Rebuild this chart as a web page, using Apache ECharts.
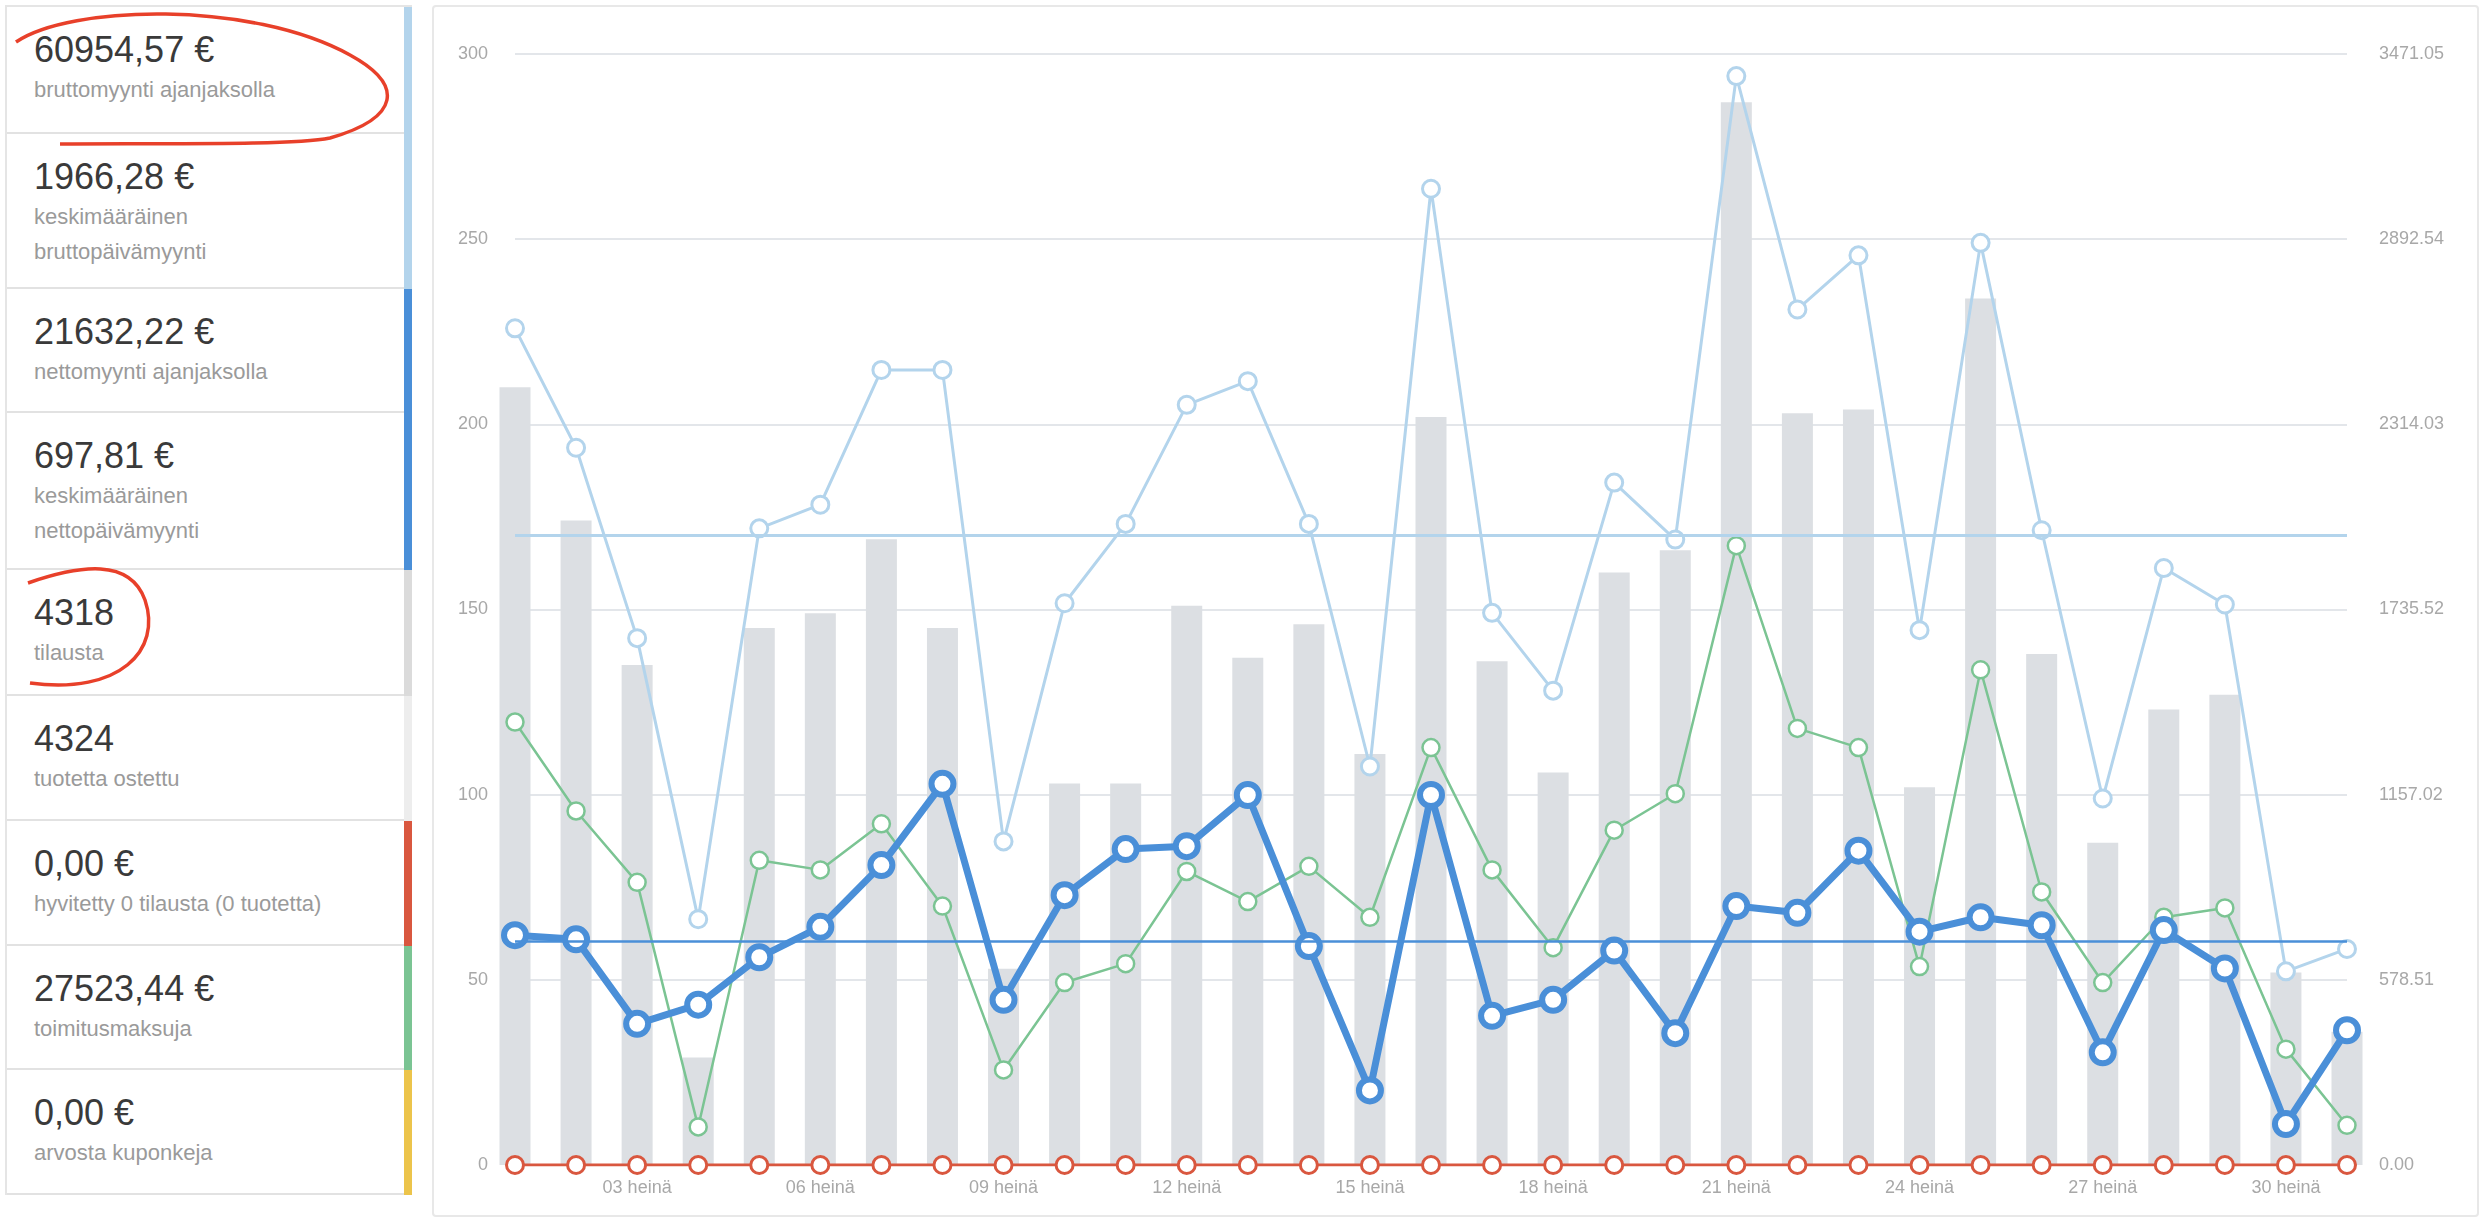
<!DOCTYPE html>
<html><head><meta charset="utf-8">
<script src="https://cdn.jsdelivr.net/npm/echarts@6/dist/echarts.min.js"></script>
<style>
body{margin:0;width:2488px;height:1228px;background:#fff;font-family:"Liberation Sans",Arial,sans-serif;position:relative;overflow:hidden}
#panel{position:absolute;left:5px;top:5px;width:405px;border-left:2px solid #e5e5e5;border-top:2px solid #e5e5e5}
.box{box-sizing:border-box;border-bottom:2px solid #e2e2e2;padding:21px 0 0 27px;position:relative}
.box .n{font-size:36px;line-height:44px;color:#3a3a3a}
.box .l{font-size:22px;line-height:35px;color:#9a9a9a}
.box .c{position:absolute;right:0;top:0;bottom:-2px;width:8px}
#chartbox{position:absolute;left:432px;top:5px;width:2047px;height:1212px;border:2px solid #e8e8e8;border-radius:4px;box-sizing:border-box}
#chart{width:100%;height:100%}
svg{position:absolute;left:0;top:0}
</style></head><body>
<div id="panel"></div>
<div id="chartbox"><div id="chart"></div></div>
<svg width="500" height="760"><path d="M 16 42 C 70 5, 250 0, 350 55 C 405 85, 400 118, 330 138 C 290 146, 150 143, 60 144" fill="none" stroke="#e8402a" stroke-width="3.5"/>
<path d="M 28 583 C 80 565, 130 558, 145 600 C 162 650, 120 695, 30 683" fill="none" stroke="#e8402a" stroke-width="3.5"/></svg>
<script>
const statValues=["60954,57 €","1966,28 €","21632,22 €","697,81 €","4318","4324","0,00 €","27523,44 €","0,00 €"];
const statLabels=["bruttomyynti ajanjaksolla","keskimääräinen<br>bruttopäivämyynti","nettomyynti ajanjaksolla","keskimääräinen<br>nettopäivämyynti","tilausta","tuotetta ostettu","hyvitetty 0 tilausta (0 tuotetta)","toimitusmaksuja","arvosta kuponkeja"];
const statColors=["#b3d4ec","#b3d4ec","#4a8fd8","#4a8fd8","#dbdbdb","#ededed","#d9573f","#7bc493","#ecc44b"];
const statHeights=[127,155,124,157,126,125,125,124,125];
const days=["01 heinä","02 heinä","03 heinä","04 heinä","05 heinä","06 heinä","07 heinä","08 heinä","09 heinä","10 heinä","11 heinä","12 heinä","13 heinä","14 heinä","15 heinä","16 heinä","17 heinä","18 heinä","19 heinä","20 heinä","21 heinä","22 heinä","23 heinä","24 heinä","25 heinä","26 heinä","27 heinä","28 heinä","29 heinä","30 heinä","31 heinä"];
const items=[210,174,135,29,145,149,169,145,53,103,103,151,137,146,111,202,136,106,160,166,287,203,204,102,234,138,87,123,127,52,36];
const gross=[2614,2241,1646,768,1989,2063,2484,2484,1011,1755,2003,2375,2449,2003,1245,3050,1725,1482,2132,1954,3402,2673,2842,1671,2881,1983,1145,1865,1751,605,675];
const net=[718,705,441,501,649,744,937,1191,516,843,987,996,1156,684,233,1156,466,516,670,412,809,788,982,729,774,749,352,734,614,128,421];
const shipping=[1384,1106,883,119,952,922,1066,809,297,570,629,917,823,933,774,1304,922,679,1046,1160,1935,1364,1304,620,1547,853,570,774,803,362,124];
const refunds=days.map(()=>0);
const avgGross=1966.28, avgNet=697.81, rightMax=3471.05;

const p=document.getElementById('panel');
statValues.forEach((v,i)=>{const d=document.createElement('div');d.className='box';d.style.height=statHeights[i]+'px';
d.innerHTML='<div class="n">'+v+'</div><div class="l">'+statLabels[i]+'</div><div class="c" style="background:'+statColors[i]+'"></div>';p.appendChild(d);});

const ch=echarts.init(document.getElementById('chart'));
const lab={color:'#a8a8a8',fontSize:18,fontFamily:'Liberation Sans'};
function ln(name,data,color,w,sym,bw,axis){return {name,type:'line',data,yAxisIndex:axis,symbol:'circle',symbolSize:sym,
 lineStyle:{color,width:w},itemStyle:{color:'#fff',borderColor:color,borderWidth:bw},emphasis:{disabled:true},z:3};}
ch.setOption({animation:false,
grid:{left:81,right:130,top:47,bottom:50},
xAxis:{type:'category',data:days,boundaryGap:false,axisLine:{show:false},axisTick:{show:false},
 axisLabel:Object.assign({interval:(i)=>i%3===2,margin:14},lab)},
yAxis:[{type:'value',min:0,max:300,interval:50,axisLabel:Object.assign({margin:27},lab),splitLine:{lineStyle:{color:'#e3e6ea',width:2}}},
 {type:'value',min:0,max:rightMax,interval:rightMax/6,axisLabel:Object.assign({margin:32,formatter:v=>(Math.round(v*100-0.01)/100).toFixed(2)},lab),splitLine:{show:false}}],
series:[
 {type:'bar',data:items,yAxisIndex:0,barWidth:31,itemStyle:{color:'#dcdfe3'},z:1},
 Object.assign(ln('gross',gross,'#b3d4ec',3,17,3,1),{markLine:{silent:true,symbol:'none',label:{show:false},lineStyle:{color:'#b3d4ec',width:3,type:'solid'},data:[{yAxis:avgGross}]}}),
 ln('shipping',shipping,'#7bc493',2.5,17,2.5,1),
 ln('refunds',refunds,'#d9573f',3,17,3,1),
 Object.assign(ln('net',net,'#4a8fd8',7,22,6,1),{z:4,markLine:{silent:true,symbol:'none',label:{show:false},lineStyle:{color:'#4a8fd8',width:2.5,type:'solid'},data:[{yAxis:avgNet}]}})
]});
</script></body></html>
